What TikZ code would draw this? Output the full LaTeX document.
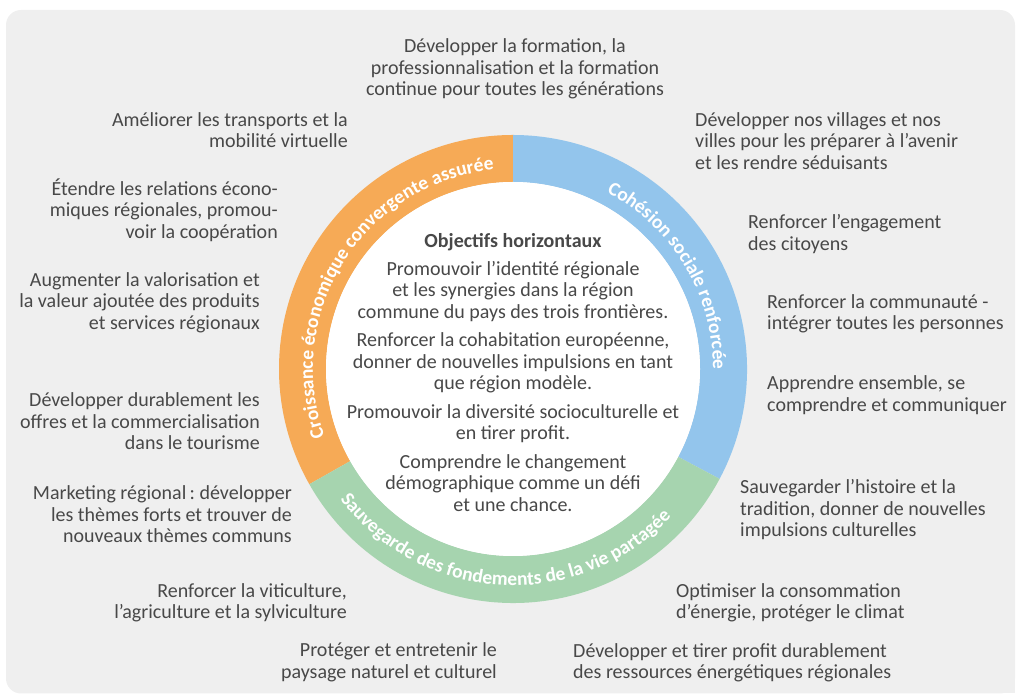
\documentclass[tikz,border=0pt]{standalone}
\usepackage{fontspec}
\setmainfont{Carlito}
\usetikzlibrary{decorations.text}

\definecolor{bggrey}{RGB}{239,239,239}
\definecolor{txtgrey}{RGB}{72,72,72}
\definecolor{segorange}{RGB}{246,170,86}
\definecolor{segblue}{RGB}{147,197,236}
\definecolor{seggreen}{RGB}{166,212,175}

\tikzset{
  goal/.style={inner sep=0pt, text=txtgrey, font=\fontsize{20}{21.5}\selectfont},
  goalL/.style={goal, anchor=east, align=right},
  goalR/.style={goal, anchor=west, align=left},
  ringtext/.style={decorate, decoration={text along path, text align=center}}
}
\newcommand\ringfont{\color{white}\bfseries\fontsize{19.5}{19.5}\selectfont}

\begin{document}
\frenchspacing
\begin{tikzpicture}[x=1pt, y=1pt]
        \def\rout{234}
        \def\rin{187}

        \useasboundingbox (0,0) rectangle (1016,695);
        \fill[bggrey, rounded corners=15pt] (6,1.5) rectangle (1015,685);
        \fill[bggrey] (990,1.5) rectangle (1015,40);
        \coordinate (C) at (513,326);

        \begin{scope}[shift={(C)}]
          \foreach \a/\b/\col in {90/209.5/segorange, -28/90/segblue, 209.5/332/seggreen} {
            \fill[\col] (\a:\rout) arc[start angle=\a, end angle=\b, radius=\rout]
              -- (\b:\rin) arc[start angle=\b, end angle=\a, radius=\rin] -- cycle;
          }
          \fill[white] (0,0) circle[radius=\rin];

          % labels on the ring
          \path[ringtext, decoration={text={|\ringfont|Croissance économique convergente assurée}}]
            (205:200) arc[start angle=205, end angle=90, radius=200];
          \path[ringtext, decoration={text={|\ringfont|Cohésion sociale renforcée}}]
            (75:200) arc[start angle=75, end angle=-13, radius=200];
          \path[ringtext, decoration={text={|\ringfont|Sauvegarde des fondements de la vie partagée}}]
            (200:216.5) arc[start angle=200, end angle=334, radius=216.5];
        \end{scope}

        \node[goal, align=center] (horiz) at (513,322.5) {\textbf{Objectifs horizontaux}\\[6.5pt]
          Promouvoir l’identité régionale\\et les synergies dans la région\\commune du pays des trois frontières.\\[7pt]
          Renforcer la cohabitation européenne,\\donner de nouvelles impulsions en tant\\que région modèle.\\[7pt]
          Promouvoir la diversité socioculturelle et\\en tirer profit.\\[7pt]
          Comprendre le changement\\démographique comme un défi\\et une chance.};

        \node[goal, align=center] (top) at (515,626) {Développer la formation, la\\professionnalisation et la formation\\continue pour toutes les générations};

        \foreach \x/\y/\t [count=\i] in {
          348/565/{Améliorer les transports et la\\mobilité virtuelle},
          278/485/{Étendre les relations écono-\\miques régionales, promou-\\voir la coopération},
          260/392.7/{Augmenter la valorisation et\\la valeur ajoutée des produits\\et services régionaux},
          260/273.7/{Développer durablement les\\offres et la commercialisation\\dans le tourisme},
          292/180.7/{Marketing régional\,: développer\\les thèmes forts et trouver de\\nouveaux thèmes communs},
          347/92/{Renforcer la viticulture,\\l’agriculture et la sylviculture},
          497/32.5/{Protéger et entretenir le\\paysage naturel et culturel}} {
          \node[goalL] (left\i) at (\x,\y) {\t};
        }

        \foreach \x/\y/\t [count=\i] in {
          695/554.3/{Développer nos villages et nos\\villes pour les préparer à l’avenir\\et les rendre séduisants},
          748/461/{Renforcer l’engagement\\des citoyens},
          767/381/{Renforcer la communauté -\\intégrer toutes les personnes},
          767/300/{Apprendre ensemble, se\\comprendre et communiquer},
          740/185.3/{Sauvegarder l’histoire et la\\tradition, donner de nouvelles\\impulsions culturelles},
          676/92/{Optimiser la consommation\\d’énergie, protéger le climat},
          573/32/{Développer et tirer profit durablement\\des ressources énergétiques régionales}} {
          \node[goalR] (right\i) at (\x,\y) {\t};
        }
      \end{tikzpicture}
\end{document}
